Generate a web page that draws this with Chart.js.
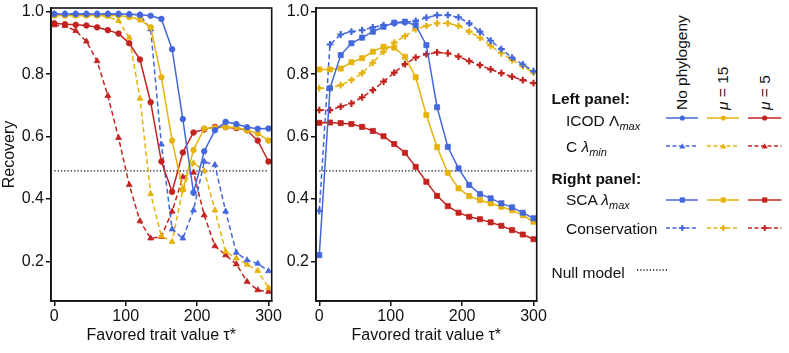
<!DOCTYPE html>
<html>
<head>
<meta charset="utf-8">
<script src="https://cdn.jsdelivr.net/npm/chart.js@4.4.1/dist/chart.umd.min.js"></script>
<style>
body{margin:0;background:#fff;font-family:"Liberation Sans",Arial,sans-serif;color:#111}
#wrap{position:relative;width:789px;height:353px;overflow:hidden}
canvas{position:absolute;top:0}
.lg{position:absolute;font-size:15.5px;white-space:nowrap;line-height:1}
.lg sub{font-size:11px;font-style:italic;vertical-align:-4px;line-height:0}
.b{font-weight:bold}
.rot{transform:rotate(-90deg);transform-origin:0 0}
svg{position:absolute}
</style>
</head>
<body>
<div id="wrap">
  <canvas id="left" width="290" height="353" style="left:0;width:290px;height:353px"></canvas>
  <canvas id="right" width="290" height="353" style="left:270px;width:290px;height:353px"></canvas>
  <div id="legend"></div>
</div>
<script>
// favored trait value tau*
const tau = [0, 15, 30, 45, 60, 75, 90, 105, 120, 135, 150, 165, 180, 195, 210, 225, 240, 255, 270, 285, 300];

// left panel
const icodNoPhylo = [0.993, 0.993, 0.993, 0.993, 0.993, 0.993, 0.993, 0.992, 0.99, 0.987, 0.977, 0.88, 0.656, 0.42, 0.553, 0.62, 0.647, 0.64, 0.63, 0.625, 0.626];
const icodMu15 = [0.988, 0.988, 0.988, 0.988, 0.988, 0.988, 0.988, 0.983, 0.975, 0.95, 0.79, 0.587, 0.43, 0.557, 0.626, 0.628, 0.63, 0.63, 0.62, 0.61, 0.587];
const icodMu5 = [0.963, 0.96, 0.958, 0.956, 0.95, 0.941, 0.93, 0.899, 0.847, 0.71, 0.52, 0.423, 0.549, 0.613, 0.623, 0.631, 0.63, 0.627, 0.62, 0.587, 0.52];
const cNoPhylo = [0.993, 0.993, 0.993, 0.993, 0.993, 0.993, 0.993, 0.992, 0.99, 0.944, 0.575, 0.303, 0.274, 0.364, 0.52, 0.509, 0.36, 0.228, 0.204, 0.193, 0.169];
const cMu15 = [0.988, 0.988, 0.988, 0.988, 0.988, 0.985, 0.971, 0.917, 0.722, 0.416, 0.281, 0.263, 0.43, 0.515, 0.49, 0.364, 0.231, 0.21, 0.19, 0.17, 0.115];
const cMu5 = [0.957, 0.955, 0.939, 0.905, 0.842, 0.731, 0.596, 0.445, 0.329, 0.274, 0.279, 0.36, 0.47, 0.485, 0.348, 0.249, 0.22, 0.191, 0.135, 0.108, 0.103];

// right panel
const scaNoPhylo = [0.22, 0.755, 0.861, 0.899, 0.917, 0.936, 0.952, 0.965, 0.968, 0.957, 0.893, 0.694, 0.567, 0.498, 0.445, 0.416, 0.402, 0.386, 0.373, 0.356, 0.338];
const scaMu15 = [0.815, 0.815, 0.818, 0.838, 0.851, 0.872, 0.888, 0.885, 0.856, 0.79, 0.669, 0.566, 0.484, 0.434, 0.409, 0.396, 0.386, 0.375, 0.364, 0.348, 0.327];
const scaMu5 = [0.644, 0.645, 0.643, 0.64, 0.631, 0.618, 0.601, 0.576, 0.548, 0.503, 0.455, 0.41, 0.377, 0.356, 0.343, 0.335, 0.325, 0.314, 0.3, 0.286, 0.271];
const consNoPhylo = [0.362, 0.895, 0.927, 0.936, 0.941, 0.95, 0.957, 0.963, 0.966, 0.971, 0.981, 0.989, 0.989, 0.982, 0.963, 0.936, 0.907, 0.88, 0.853, 0.831, 0.81];
const consMu15 = [0.755, 0.755, 0.765, 0.781, 0.803, 0.837, 0.872, 0.901, 0.922, 0.944, 0.955, 0.963, 0.963, 0.955, 0.936, 0.917, 0.891, 0.867, 0.845, 0.826, 0.805];
const consMu5 = [0.685, 0.685, 0.696, 0.706, 0.726, 0.749, 0.776, 0.805, 0.832, 0.853, 0.864, 0.87, 0.867, 0.856, 0.842, 0.829, 0.815, 0.803, 0.792, 0.781, 0.771];

const nullLevel = 0.49;
const xTicks = [0, 100, 200, 300];
const yTicks = [0.2, 0.4, 0.6, 0.8, 1.0];

const BLUE = '#4467dc', GOLD = '#e5b20e', RED = '#c3231f';
const FONT = '"Liberation Sans", Arial, sans-serif';
const DASH = [5, 3];

const pts = ys => ys.map((y, i) => ({ x: tau[i], y: y }));

function series(ys, color, dashed, marker, r) {
	return {
		data: pts(ys),
		borderColor: color,
		backgroundColor: color,
		borderWidth: 1.5,
		borderDash: dashed ? DASH : [],
		pointStyle: marker,
		pointRadius: r,
		pointBorderWidth: marker == 'cross' ? 2.2 : 0.8,
		pointBorderColor: color,
		pointBackgroundColor: color,
		tension: 0,
	};
}

function nullSeries() {
	return {
		data: [{ x: tau[0], y: nullLevel }, { x: tau[tau.length - 1], y: nullLevel }],
		borderColor: '#111',
		borderWidth: 1.4,
		borderDash: [1.3, 2],
		pointRadius: 0,
	};
}

//draw box round the plot area
const frame = {
	id: 'frame',
	afterDraw(chart) {
		const a = chart.chartArea, ctx = chart.ctx;
		ctx.save();
		ctx.strokeStyle = '#111';
		ctx.lineWidth = 1.6;
		ctx.strokeRect(a.left, a.top, a.right - a.left, a.bottom - a.top);
		ctx.restore();
	},
};

function makeChart(id, datasets, yWidth, padRight, yTitle) {
	return new Chart(document.getElementById(id), {
		type: 'line',
		plugins: [frame],
		data: { datasets: datasets },
		options: {
			responsive: false,
			animation: false,
			layout: { padding: { top: 8, right: padRight, left: 0, bottom: 0 } },
			plugins: { legend: { display: false }, tooltip: { enabled: false } },
			scales: {
				x: {
					type: 'linear',
					min: -4.6,
					max: 304.5,
					afterBuildTicks: s => { s.ticks = xTicks.map(v => ({ value: v })); },
					afterFit: s => { s.height = 52; s.paddingLeft = 0; s.paddingRight = 0; },
					grid: { drawOnChartArea: false, color: '#111', lineWidth: 1.5, tickLength: 5 },
					border: { color: '#111', width: 1.6 },
					ticks: { color: '#111', font: { size: 16, family: FONT }, padding: 1, maxRotation: 0, autoSkip: false },
					title: { display: true, text: 'Favored trait value τ*', color: '#111', font: { size: 16, family: FONT }, padding: { top: 0, bottom: 8 } },
				},
				y: {
					min: 0.073,
					max: 1.012,
					afterBuildTicks: s => { s.ticks = yTicks.map(v => ({ value: v })); },
					afterFit: s => { s.width = yWidth; s.paddingTop = 0; s.paddingBottom = 0; },
					grid: { drawOnChartArea: false, color: '#111', lineWidth: 1.5, tickLength: 5 },
					border: { color: '#111', width: 1.6 },
					ticks: { color: '#111', font: { size: 16, family: FONT }, padding: 2, callback: v => v.toFixed(1) },
					title: { display: !!yTitle, text: yTitle || '', color: '#111', font: { size: 16, family: FONT }, padding: { top: 0, bottom: 0 } },
				},
			},
		},
	});
}

makeChart('left', [
	series(icodNoPhylo, BLUE, false, 'circle', 2.8),
	series(icodMu15, GOLD, false, 'circle', 2.8),
	series(icodMu5, RED, false, 'circle', 2.8),
	series(cNoPhylo, BLUE, true, 'triangle', 3.4),
	series(cMu15, GOLD, true, 'triangle', 3.4),
	series(cMu5, RED, true, 'triangle', 3.4),
	nullSeries(),
], 51, 18.3, 'Recovery');

makeChart('right', [
	series(scaNoPhylo, BLUE, false, 'rect', 3.6),
	series(scaMu15, GOLD, false, 'rect', 3.6),
	series(scaMu5, RED, false, 'rect', 3.6),
	series(consNoPhylo, BLUE, true, 'cross', 3.4),
	series(consMu15, GOLD, true, 'cross', 3.4),
	series(consMu5, RED, true, 'cross', 3.4),
	nullSeries(),
], 46, 23.3, null);

// legend
const legend = document.getElementById('legend');
function text(html, x, cy, cls) {
	const d = document.createElement('div');
	d.className = 'lg ' + (cls || '');
	d.innerHTML = html;
	d.style.left = x + 'px';
	d.style.top = (cy - 8) + 'px';
	legend.appendChild(d);
}
function header(html, cx, bottom) {
	const d = document.createElement('div');
	d.className = 'lg rot';
	d.innerHTML = html;
	d.style.left = (cx - 8) + 'px';
	d.style.top = bottom + 'px';
	legend.appendChild(d);
}
const ns = 'http://www.w3.org/2000/svg';
function sample(x0, x1, y, color, dash, marker) {
	const svg = document.createElementNS(ns, 'svg');
	const w = x1 - x0;
	svg.setAttribute('width', w);
	svg.setAttribute('height', 10);
	svg.style.left = x0 + 'px';
	svg.style.top = (y - 5) + 'px';
	let h = `<line x1="0" y1="5" x2="${w}" y2="5" stroke="${color}" stroke-width="1.5" stroke-dasharray="${dash}"/>`;
	const c = w / 2;
	if (marker == 'circle') h += `<circle cx="${c}" cy="5" r="2.6" fill="${color}"/>`;
	if (marker == 'triangle') h += `<polygon points="${c - 3},7.5 ${c + 3},7.5 ${c},2.2" fill="${color}"/>`;
	if (marker == 'rect') h += `<rect x="${c - 2.6}" y="2.4" width="5.2" height="5.2" fill="${color}"/>`;
	if (marker == 'cross') h += `<path d="M${c - 3} 5H${c + 3}M${c} 2V8" stroke="${color}" stroke-width="2"/>`;
	svg.innerHTML = h;
	legend.appendChild(svg);
}

header('No phylogeny', 681.7, 110);
header('<i>μ</i> = 15', 722.7, 110);
header('<i>μ</i> = 5', 765, 110);

text('Left panel:', 551.5, 98.5, 'b');
text('ICOD Λ<sub>max</sub>', 566, 121);
text('C <i>λ</i><sub>min</sub>', 566, 147);
text('Right panel:', 551.5, 178.5, 'b');
text('SCA <i>λ</i><sub>max</sub>', 566, 200);
text('Conservation', 566, 229);
text('Null model', 551.5, 272.5);

const cols = [[665.7, 698.3, BLUE], [706.7, 739.3, GOLD], [748.3, 781.7, RED]];
const rows = [[118.3, '', 'circle'], [145.7, '4 2.5', 'triangle'], [200, '', 'rect'], [227.7, '4 2.5', 'cross']];
rows.forEach(r => cols.forEach(c => sample(c[0], c[1], r[0], c[2], r[1], r[2])));
sample(637.3, 668.3, 270, '#111', '1.2 2', null);
</script>
</body>
</html>
